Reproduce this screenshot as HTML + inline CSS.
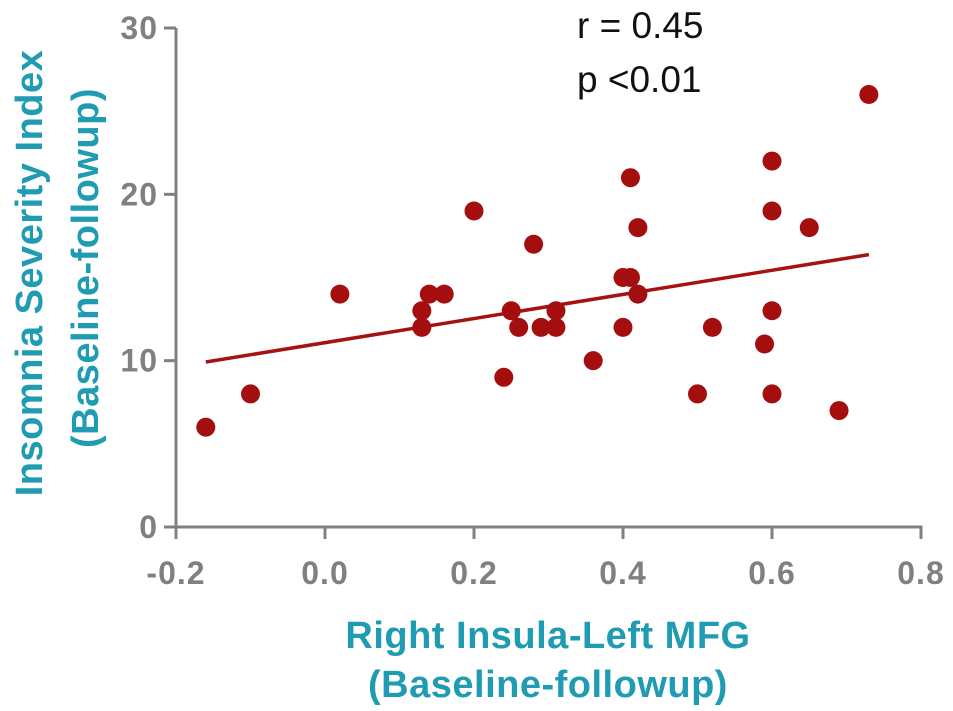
<!DOCTYPE html>
<html><head><meta charset="utf-8">
<style>
html,body{margin:0;padding:0;background:#fff;}
svg{display:block;font-family:"Liberation Sans",Arial,sans-serif;}
</style></head>
<body>
<svg id="chart" width="953" height="711" viewBox="0 0 953 711" xmlns="http://www.w3.org/2000/svg">
<g id="axes"></g>
<g id="fit"></g>
<g id="points"></g>
<text x="577" y="38" font-size="37" fill="#111">r = 0.45</text>
<text x="577" y="92" font-size="37" fill="#111">p &lt;0.01</text>
<text x="548" y="648" font-size="38" font-weight="bold" fill="#1f9bb2" text-anchor="middle" letter-spacing="0.5">Right Insula-Left MFG</text>
<text x="548" y="697" font-size="38" font-weight="bold" fill="#1f9bb2" text-anchor="middle" letter-spacing="0.5">(Baseline-followup)</text>
<text transform="translate(42,273) rotate(-90)" y="0" font-size="38" font-weight="bold" fill="#1f9bb2" text-anchor="middle" letter-spacing="0.5">Insomnia Severity Index</text>
<text transform="translate(98,268) rotate(-90)" y="0" font-size="38" font-weight="bold" fill="#1f9bb2" text-anchor="middle" letter-spacing="0.5">(Baseline-followup)</text>
</svg>
<script>
const xValues = [-0.16,-0.10,0.02,0.13,0.13,0.14,0.16,0.20,0.24,0.25,0.26,0.28,0.29,0.31,0.31,0.36,0.40,0.40,0.41,0.41,0.42,0.42,0.50,0.52,0.59,0.60,0.60,0.60,0.60,0.65,0.69,0.73];
const yValues = [6,8,14,13,12,14,14,19,9,13,12,17,12,13,12,10,12,15,15,21,18,14,8,12,11,22,19,13,8,18,7,26];
const xTicks = [-0.2,0.0,0.2,0.4,0.6,0.8];
const xTickLabels = ["-0.2","0.0","0.2","0.4","0.6","0.8"];
const yTicks = [0,10,20,30];
const yTickLabels = ["0","10","20","30"];

const NS="http://www.w3.org/2000/svg";
const X0=176,X1=921,Y0=527,Y1=28;
function sx(v){return X0+(v-(-0.2))/(1.0)*(X1-X0);}
function sy(v){return Y0-(v/30)*(Y0-Y1);}
function mk(tag,attrs,parent){const e=document.createElementNS(NS,tag);for(const k in attrs)e.setAttribute(k,attrs[k]);parent.appendChild(e);return e;}
const axes=document.getElementById('axes');
const grey="#808080";
let e=mk('line',{x1:X0,y1:Y1,x2:X0,y2:Y0+1.5,stroke:grey,'stroke-width':3},axes);


e=mk('line',{x1:X0-1.5,y1:Y0,x2:X1+1.5,y2:Y0,stroke:grey,'stroke-width':3},axes);


xTicks.forEach((t,i)=>{
  const x=sx(t);
  let l=mk('line',{x1:x,y1:Y0,x2:x,y2:Y0+12,stroke:grey,'stroke-width':3},axes);
  
  
  let tx=mk('text',{x:x,y:Y0+57,'font-size':32,'font-weight':'bold',fill:grey,'text-anchor':'middle','letter-spacing':1},axes);
  tx.textContent=xTickLabels[i];
  
  
});
yTicks.forEach((t,i)=>{
  const y=sy(t);
  let l=mk('line',{x1:X0-12,y1:y,x2:X0,y2:y,stroke:grey,'stroke-width':3},axes);
  
  
  let tx=mk('text',{x:X0-18,y:y+11,'font-size':32,'font-weight':'bold',fill:grey,'text-anchor':'end','letter-spacing':1},axes);
  tx.textContent=yTickLabels[i];
  
  
});
const n=xValues.length;
let mx=0,my=0;for(let i=0;i<n;i++){mx+=xValues[i];my+=yValues[i];}mx/=n;my/=n;
let sxy=0,sxx=0;for(let i=0;i<n;i++){sxy+=(xValues[i]-mx)*(yValues[i]-my);sxx+=(xValues[i]-mx)**2;}
const slope=sxy/sxx,icpt=my-slope*mx;
const xmin=Math.min(...xValues),xmax=Math.max(...xValues);
const fit=document.getElementById('fit');
e=mk('line',{x1:sx(xmin),y1:sy(icpt+slope*xmin),x2:sx(xmax),y2:sy(icpt+slope*xmax),stroke:"#a51212",'stroke-width':3.5},fit);


const pts=document.getElementById('points');
for(let i=0;i<n;i++){
  const c=mk('circle',{cx:sx(xValues[i]),cy:sy(yValues[i]),r:9.5,fill:"#a50e0e"},pts);
  
  
}
</script>
</body></html>
